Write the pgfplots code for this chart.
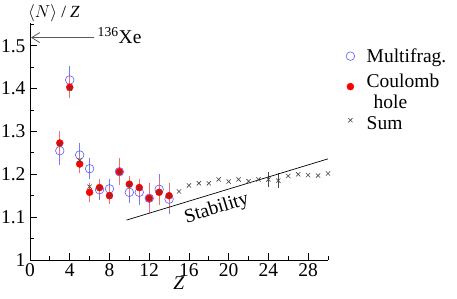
\documentclass[border=0pt]{standalone}
\usepackage{fontspec}
\setmainfont{Liberation Serif}
\usepackage{pgfplots}
\pgfplotsset{compat=1.18}
\usetikzlibrary{arrows.meta}
\definecolor{mfblue}{RGB}{90,90,255}
\definecolor{mfbluebar}{RGB}{120,120,255}
\definecolor{chred}{RGB}{255,0,0}
\definecolor{chredbar}{RGB}{240,110,110}
\definecolor{sumgray}{RGB}{70,70,70}
\begin{document}
\begin{tikzpicture}
\begin{axis}[
  scale only axis,
  width=298pt, height=237pt,
  xmin=0, xmax=30, ymin=1, ymax=1.553,
  axis lines*=left,
  axis line style={line width=0.8pt},
  tick align=inside,
  major tick length=7pt, minor tick length=4pt,
  tick style={black, line width=0.8pt},
  xtick={0,4,...,28}, minor xtick={2,6,...,30},
  ytick={1,1.1,...,1.5}, minor ytick={1.05,1.15,...,1.55},
  yticklabels={1,1.1,1.2,1.3,1.4,1.5},
  /pgf/number format/assume math mode=true,
  tick label style={font=\fontsize{19.5}{21}\selectfont},
  xticklabel style={yshift=0pt},
  yticklabel style={xshift=-1pt},
  xlabel={\textit{Z}},
  xlabel style={font=\fontsize{19.5}{21}\selectfont, yshift=7pt},
  clip=false,
  legend style={draw=none, fill=none, at={(axis description cs:1.05,0.91)}, anchor=north west,
    font=\fontsize{19.5}{21}\selectfont, row sep=5pt, column sep=10pt, cells={anchor=west}},
  legend cell align=left,
]
\addplot[only marks, mark=o, mark size=4.3pt, mfblue, mark options={line width=0.6pt},
  error bars/.cd, y dir=both, y explicit, error bar style={mfbluebar, line width=0.8pt}, error mark=none]
  table[x=Z, y=v, y error=e] {
Z v e
3 1.255 0.033
4 1.420 0.032
5 1.245 0.028
6 1.213 0.025
7 1.164 0.025
8 1.166 0.022
9 1.206 0.030
10 1.158 0.026
11 1.158 0.030
12 1.144 0.035
13 1.165 0.035
14 1.142 0.035
};
\addlegendentry{Multifrag.}
\addplot[only marks, mark=*, mark size=3.5pt, chred, mark options={draw=chred, fill=chred},
  error bars/.cd, y dir=both, y explicit, error bar style={chredbar, line width=0.8pt}, error mark=none]
  table[x=Z, y=v, y error=e] {
Z v e
3 1.273 0.027
4 1.403 0.026
5 1.224 0.021
6 1.158 0.022
7 1.169 0.020
8 1.150 0.020
9 1.206 0.032
10 1.177 0.020
11 1.169 0.020
12 1.144 0.035
13 1.158 0.030
14 1.150 0.030
};
\addlegendentry{\begin{tabular}{@{}l@{}}Coulomb\\\hspace{7pt}hole\end{tabular}}
\addplot[only marks, mark=x, mark size=3pt, sumgray, mark options={line width=0.6pt},
  error bars/.cd, y dir=both, y explicit, error bar style={sumgray, line width=0.6pt}, error mark=none]
  table[x=Z, y=v, y error=e] {
Z v e
3 1.270 0
4 1.400 0
5 1.232 0
6 1.171 0
7 1.168 0
8 1.150 0
9 1.205 0
10 1.175 0
11 1.168 0
12 1.144 0
13 1.158 0
14 1.150 0
15 1.160 0
16 1.174 0
17 1.179 0
18 1.179 0
19 1.188 0
20 1.183 0
21 1.188 0
22 1.184 0
23 1.188 0
24 1.188 0.018
25 1.185 0.017
26 1.196 0
27 1.200 0
28 1.198 0
29 1.197 0
30 1.202 0
};
\addlegendentry{\rule{0pt}{20pt}Sum}
\addplot[black, line width=0.7pt, no marks, forget plot] coordinates {(9.7,1.093) (30,1.236)};
\node[rotate=17, font=\fontsize{19.5}{21}\selectfont] at (axis cs:18.8,1.119) {Stability};
\draw[gray!70!black, line width=0.8pt, -{Straight Barb[length=8pt,width=10pt]}] (axis cs:6.4,1.519) -- (axis cs:0.1,1.519);
\node[anchor=west, font=\fontsize{19.5}{21}\selectfont, inner sep=0pt] at (axis cs:6.8,1.524) {\textsuperscript{136}Xe};
\node[anchor=base west, font=\fontsize{17}{19}\selectfont, inner sep=0pt] at (axis cs:-0.2,1.565) {$\langle N\rangle$ / \textit{Z}};
\coordinate (O) at (rel axis cs:0,0);
\end{axis}
\pgfresetboundingbox
\path[use as bounding box] (O) ++(-30pt,-38pt) rectangle ++(457pt,298pt);
\end{tikzpicture}
\end{document}
